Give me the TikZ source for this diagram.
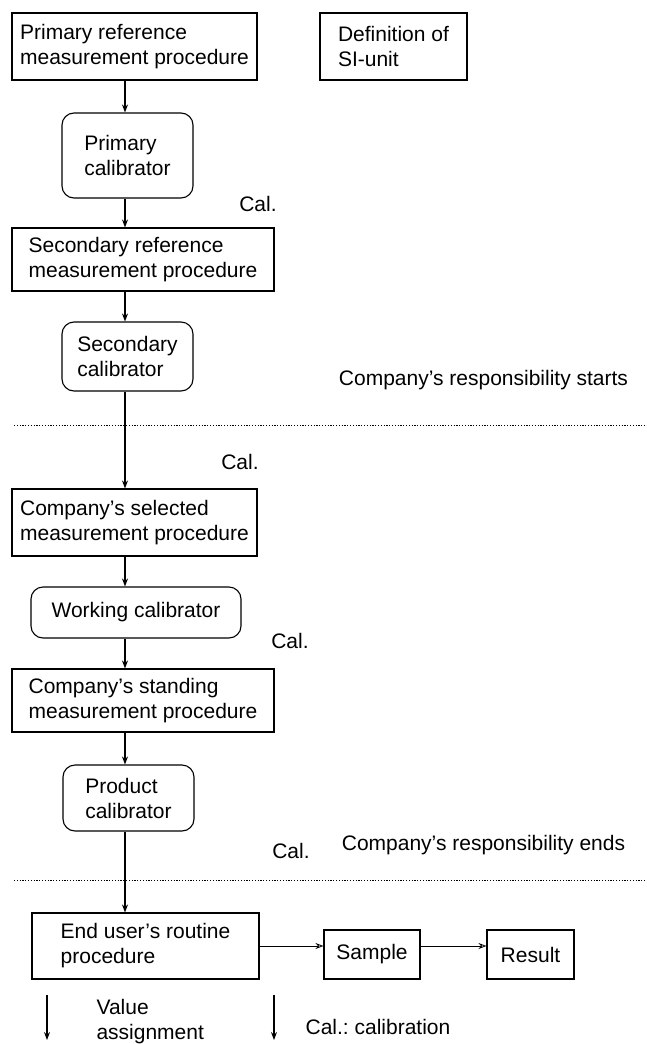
\documentclass[tikz,border=0pt]{standalone}
\usepackage{fontspec}
\setmainfont{Liberation Sans}
\usetikzlibrary{arrows.meta}

\begin{document}
\begin{tikzpicture}[x=1pt, y=-1pt, >={Stealth[length=8pt,width=6pt]},
  font=\fontsize{21}{25}\selectfont, line width=1.1pt,
  box/.style={draw, align=left, inner sep=0pt},
  cal/.style={box, rounded corners=12pt},
  sep/.style={line width=0.9pt, dash pattern=on 1.2pt off 1.6pt}]
  \useasboundingbox (0,0) rectangle (647,1044);
  \coordinate (sp) at (125,0);
  % traceability chain
  \node[box, minimum width=245, minimum height=67] (pr) at (134.5,46.5) {Primary reference\\measurement procedure};
  \node[box, minimum width=147, minimum height=67] (si) at (393.5,46.5) {Definition of\\SI-unit};
  \node[cal, minimum width=131, minimum height=85] (pc) at (127.5,155.5) {Primary\\calibrator};
  \node[box, minimum width=262, minimum height=63] (sr) at (143,259.5) {Secondary reference\\measurement procedure};
  \node[cal, minimum width=131, minimum height=69] (sc) at (127.5,356.5) {Secondary\\calibrator};
  \node[box, minimum width=245, minimum height=67] (cs) at (134.5,522.5) {Company’s selected\\measurement procedure};
  \node[cal, minimum width=210, minimum height=51] (wc) at (136,612.5) {Working calibrator};
  \node[box, minimum width=262, minimum height=63] (st) at (143,700.5) {Company’s standing\\measurement procedure};
  \node[cal, minimum width=131, minimum height=66] (pd) at (128.5,798) {Product\\calibrator};
  \node[box, minimum width=227, minimum height=66] (eu) at (145.5,946) {End user’s routine\\procedure};
  \node[box, minimum width=96, minimum height=49] (sm) at (372,954.5) {Sample};
  \node[box, minimum width=87, minimum height=49] (rs) at (530.5,954.5) {Result};
  \draw[->] (pr.south -| sp) -- (pc.north -| sp);
  \draw[->] (pc.south -| sp) -- (sr.north -| sp);
  \draw[->] (sr.south -| sp) -- (sc.north -| sp);
  \draw[->] (sc.south -| sp) -- (cs.north -| sp);
  \draw[->] (cs.south -| sp) -- (wc.north -| sp);
  \draw[->] (wc.south -| sp) -- (st.north -| sp);
  \draw[->] (st.south -| sp) -- (pd.north -| sp);
  \draw[->] (pd.south -| sp) -- (eu.north -| sp);
  \draw[-{Stealth[open,length=8pt,width=6pt]}, line width=0.8pt] (eu.east) -- (eu.east -| sm.west);
  \draw[-{Stealth[open,length=8pt,width=6pt]}, line width=0.8pt] (sm.east |- eu.east) -- (eu.east -| rs.west);
  % Cal. labels
  \node (c1) at (258,204) {Cal.};
  \node (c2) at (240,462) {Cal.};
  \node (c3) at (290,641) {Cal.};
  \node (c4) at (291,851) {Cal.};
  % responsibility borders
  \node (rb) at (483.5,380) {Company’s responsibility starts};
  \node (re) at (483.5,845) {Company’s responsibility ends};
  \coordinate (d1) at (14,425);
  \coordinate (d2) at (14,880);
  \draw[sep] (d1) -- (d1 -| 647,0);
  \draw[sep] (d2) -- (d2 -| 647,0);
  % legend
  \coordinate (va) at (47,995);
  \coordinate (ca) at (274,995);
  \draw[->] (va) -- ++(0,45);
  \draw[->] (ca) -- ++(0,45);
  \node[align=left, anchor=west, inner sep=0pt] (vt) at (96,1022) {Value\\assignment};
  \node (ct) at (378,1027) {Cal.:\ calibration};
\end{tikzpicture}
\end{document}
